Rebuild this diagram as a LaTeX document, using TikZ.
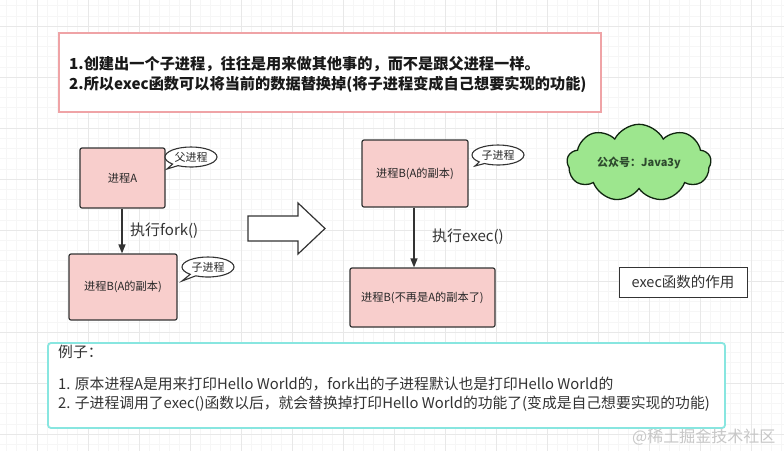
\documentclass[tikz,border=0pt]{standalone}
\usepackage{fontspec}
\setmainfont{Noto Sans CJK SC}
\usetikzlibrary{shapes.callouts,shapes.symbols,arrows.meta}

\definecolor{procfill}{HTML}{F8CECC}
\definecolor{edgec}{HTML}{333333}
\definecolor{pinkline}{HTML}{EFA3A6}
\definecolor{cyanline}{HTML}{88E6E0}
\definecolor{cloudfill}{HTML}{9DE68E}
\definecolor{cloudtext}{HTML}{2E4A2E}
\definecolor{gridminor}{HTML}{F6F6F6}
\definecolor{gridmajor}{HTML}{E8E8E8}

\begin{document}
\begin{tikzpicture}[x=1pt,y=-1pt,
  proc/.style={draw=edgec, fill=procfill, line width=1.2pt, rounded corners=2pt,
    inner sep=0pt, font=\fontsize{11.2}{13}\selectfont, text=black!85},
  bubble/.style={ellipse callout, draw=edgec, fill=white, line width=1.1pt,
    minimum width=52pt, minimum height=20pt, inner sep=0pt,
    font=\fontsize{11}{13}\selectfont, text=black!85},
  conn/.style={draw=edgec, line width=1.3pt, -{Triangle[length=9pt,width=7pt]}},
  lbl/.style={anchor=west, inner sep=0pt, font=\fontsize{15}{18}\selectfont, text=edgec},
  body/.style={anchor=west, inner sep=0pt, font=\fontsize{14.8}{17}\selectfont, text=edgec},
]
\useasboundingbox (0,0) rectangle (784,451);
\fill[white] (0,0) rectangle (784,451);

% grid
\foreach \gx in {6.2,16.4,...,784} \draw[gridminor, line width=0.5pt] (\gx,0) -- (\gx,451);
\foreach \gy in {5.6,15.8,...,451} \draw[gridminor, line width=0.5pt] (0,\gy) -- (784,\gy);
\foreach \gx in {37,88,...,784} \draw[gridmajor, line width=0.7pt] (\gx,0) -- (\gx,451);
\foreach \gy in {26,77,...,451} \draw[gridmajor, line width=0.7pt] (0,\gy) -- (784,\gy);

% top note
\node[draw=pinkline, fill=white, line width=1.3pt, minimum width=542pt, minimum height=79pt,
  inner sep=0pt] (note) at (330,72.5) {};
\node[anchor=west, inner sep=0pt, align=left, font=\bfseries\fontsize{15.2}{20}\selectfont,
  text=black!90] (notetext) at (69,75)
  {1.创建出一个子进程，往往是用来做其他事的，而不是跟父进程一样。\\
   2.所以exec函数可以将当前的数据替换掉(将子进程变成自己想要实现的功能)};

% left side
\node[proc, minimum width=85pt, minimum height=60pt] (A) at (122.5,178) {进程A};
\node[proc, minimum width=108pt, minimum height=66pt] (B) at (123,287) {进程B(A的副本)};
\node[bubble, callout absolute pointer={(167,169)}] (fu) at (191,157) {父进程};
\node[bubble, callout absolute pointer={(182,281)}] (zi1) at (208,267) {子进程};
\draw[conn] (A.south -| 122,0) -- (B.north -| 122,0);
\node[lbl] (forklbl) at (130,231) {执行fork()};

% hollow arrow
\draw[draw=edgec, fill=white, line width=1.2pt, line join=miter]
  (248,216) -- (298,216) -- (298,203) -- (325,228.5) -- (298,254) -- (298,241) -- (248,241) -- cycle;

% right side
\node[proc, minimum width=106pt, minimum height=67pt] (B2) at (415,173.5) {进程B(A的副本)};
\node[proc, minimum width=145pt, minimum height=59pt] (C) at (422.5,297.5) {进程B(不再是A的副本了)};
\node[bubble, callout absolute pointer={(475,166)}] (zi2) at (498,155) {子进程};
\draw[conn] (B2.south -| 414,0) -- (C.north -| 414,0);
\node[lbl] (execlbl) at (432,237) {执行exec()};

% cloud
\node[cloud, cloud puffs=9, cloud puff arc=125, aspect=2.1, draw=edgec!80!green!40!black,
  fill=cloudfill, line width=1.3pt, minimum width=144pt, minimum height=70pt, inner sep=0pt,
  font=\bfseries\fontsize{11}{13}\selectfont, text=cloudtext] (cloud) at (639,163) {公众号：Java3y};

% caption box
\node[draw=edgec, fill=white, line width=0.9pt, minimum width=128pt, minimum height=30pt,
  inner sep=0pt, font=\fontsize{14.5}{17}\selectfont, text=edgec] (cap) at (683,282) {exec函数的作用};

% bottom example box
\node[draw=cyanline, fill=white, line width=1.8pt, rounded corners=3pt,
  minimum width=677pt, minimum height=85pt, inner sep=0pt] (ex) at (386.5,385.5) {};
\node[body] (ex0) at (58,352) {例子：};
\node[body] (ex1) at (58,384) {1. 原本进程A是用来打印Hello World的，fork出的子进程默认也是打印Hello World的};
\node[body] (ex2) at (58,404) {2. 子进程调用了exec()函数以后，就会替换掉打印Hello World的功能了(变成是自己想要实现的功能)};

% watermark
\node[anchor=west, inner sep=0pt, font=\fontsize{16}{18}\selectfont, text=black!22] (wm) at (632,437) {@稀土掘金技术社区};
\end{tikzpicture}
\end{document}
